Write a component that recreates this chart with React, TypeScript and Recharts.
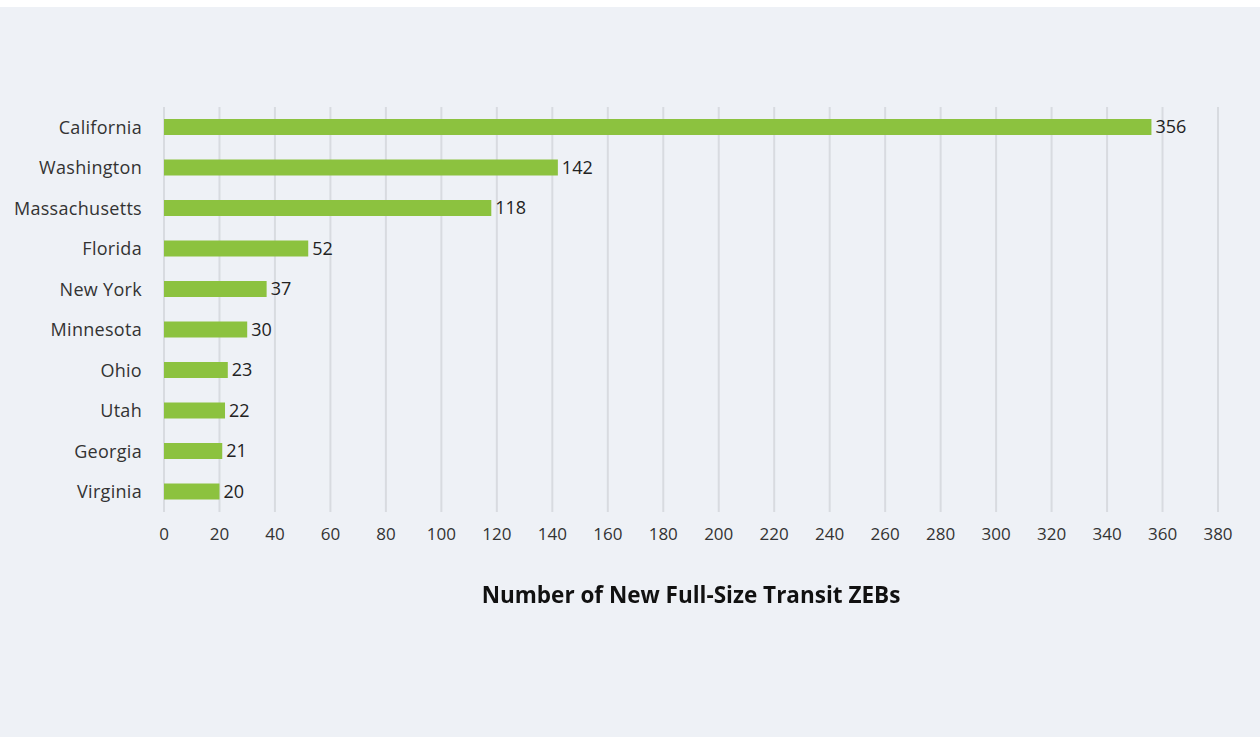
import { BarChart, Bar, CartesianGrid, XAxis, YAxis, LabelList } from 'recharts';

const states = [
  'California',
  'Washington',
  'Massachusetts',
  'Florida',
  'New York',
  'Minnesota',
  'Ohio',
  'Utah',
  'Georgia',
  'Virginia',
];
const zebCounts = [356, 142, 118, 52, 37, 30, 23, 22, 21, 20];
const xTicks = [0, 20, 40, 60, 80, 100, 120, 140, 160, 180, 200, 220, 240, 260, 280, 300, 320, 340, 360, 380];
const axisTitle = 'Number of New Full-Size Transit ZEBs';

const data = states.map((state, i) => ({ state, count: zebCounts[i] }));

const FONT = '"Open Sans", sans-serif';

export default function App() {
  return (
    <div
      style={{
        position: 'fixed',
        left: 0,
        top: 0,
        width: 1260,
        height: 737,
        background: '#eef1f6',
        fontFamily: FONT,
      }}
    >
      <div style={{ position: 'absolute', left: 0, top: 0, width: 1260, height: 7, background: '#ffffff' }} />
      <BarChart
        layout="vertical"
        width={1260}
        height={737}
        data={data}
        margin={{ top: 107, right: 42, bottom: 185, left: 0 }}
        style={{ position: 'absolute', left: 0, top: 0 }}
      >
        <CartesianGrid horizontal={false} stroke="#d8dbe0" strokeWidth={2} />
        <XAxis
          type="number"
          domain={[0, 380]}
          ticks={xTicks}
          interval={0}
          axisLine={false}
          tickLine={false}
          tickMargin={10}
          height={40}
          tick={{ fill: '#333', fontSize: 17, fontFamily: FONT }}
        />
        <YAxis
          type="category"
          dataKey="state"
          width={164}
          axisLine={false}
          tickLine={false}
          tickSize={0}
          tickMargin={22}
          tick={{ fill: '#333', fontSize: 18, fontFamily: FONT, letterSpacing: 0.3 }}
        />
        <Bar dataKey="count" fill="#8cc23f" barSize={16} isAnimationActive={false}>
          <LabelList
            dataKey="count"
            position="right"
            offset={4}
            style={{ fill: '#222', fontSize: 18, fontFamily: FONT }}
          />
        </Bar>
      </BarChart>
      <div
        style={{
          position: 'absolute',
          left: 0,
          width: 1382,
          top: 579,
          textAlign: 'center',
          fontWeight: 700,
          fontSize: 22.5,
          color: '#111',
        }}
      >
        {axisTitle}
      </div>
    </div>
  );
}
